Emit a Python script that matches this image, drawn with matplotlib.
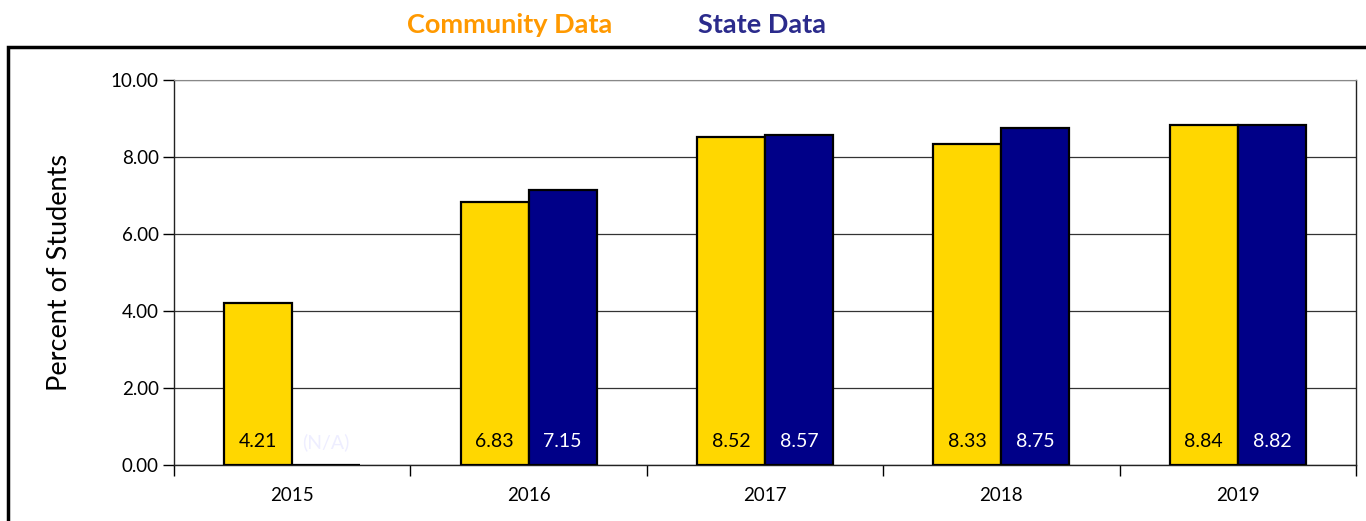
import matplotlib.pyplot as plt
import numpy as np
from matplotlib.patches import Rectangle

plt.rcParams['font.family'] = ['Lato', 'DejaVu Sans']

years = ['2015', '2016', '2017', '2018', '2019']
community = [4.21, 6.83, 8.52, 8.33, 8.84]
state = [0.0, 7.15, 8.57, 8.75, 8.82]
community_labels = ['4.21', '6.83', '8.52', '8.33', '8.84']
state_labels = ['(N/A)', '7.15', '8.57', '8.75', '8.82']
state_missing = [True, False, False, False, False]

YELLOW = '#FFD700'
NAVY = '#000088'

fig = plt.figure(figsize=(13.66, 5.21), dpi=100)
ax = fig.add_axes([174 / 1366, 1 - 465 / 521, (1356 - 174) / 1366, (465 - 80) / 521])

# outer frame (only left and top visible)
fig.patches.append(Rectangle((8 / 1366, -0.2), 1.2, 1.2 - 47 / 521,
                             transform=fig.transFigure, fill=False,
                             edgecolor='black', linewidth=2.5, zorder=0))

x = np.arange(len(years)) + 0.5
w = 0.288

ax.bar(x - w / 2, community, w, color=YELLOW, edgecolor='black', linewidth=1.6, zorder=3)
ax.bar(x + w / 2, state, w, color=NAVY, edgecolor='black', linewidth=1.6, zorder=3)

for i in range(len(years)):
    ax.text(x[i] - w / 2, 0.6, community_labels[i], ha='center', va='center',
            fontsize=14, color='black', zorder=4)
    col = '#EEEEFF' if state_missing[i] else 'white'
    ax.text(x[i] + w / 2, 0.6, state_labels[i], ha='center', va='center',
            fontsize=14, color=col, zorder=4)

ax.set_xlim(0, len(years))
ax.set_ylim(0, 10)
ax.set_yticks(np.arange(0, 10.01, 2))
ax.set_yticklabels([f'{v:.2f}' for v in np.arange(0, 10.01, 2)], fontsize=13.5)
ax.yaxis.grid(True, color='#333333', linewidth=0.9, zorder=0)
ax.set_axisbelow(True)

ax.set_xticks(np.arange(len(years) + 1))
ax.set_xticklabels([])
ax.set_xticks(x, minor=True)
ax.set_xticklabels(years, minor=True, fontsize=13.5)
ax.tick_params(axis='x', which='minor', length=0, pad=16)
ax.tick_params(axis='x', which='major', length=8, width=1, direction='out')
ax.tick_params(axis='y', length=8, width=1, direction='out', pad=3)

for s in ['left', 'bottom', 'right']:
    ax.spines[s].set_color('#222222')
    ax.spines[s].set_linewidth(1)
ax.spines['top'].set_color('#888888')

ax.set_ylabel('Percent of Students', fontsize=19.5, labelpad=28)

fig.text(510 / 1366, 1 - 25 / 521, 'Community Data', color='#FF9900', fontsize=19.5,
         fontweight='bold', ha='center', va='center')
fig.text(762 / 1366, 1 - 25 / 521, 'State Data', color='#2B2B8C', fontsize=19.5,
         fontweight='bold', ha='center', va='center')

fig.savefig('out.png', dpi=100)
